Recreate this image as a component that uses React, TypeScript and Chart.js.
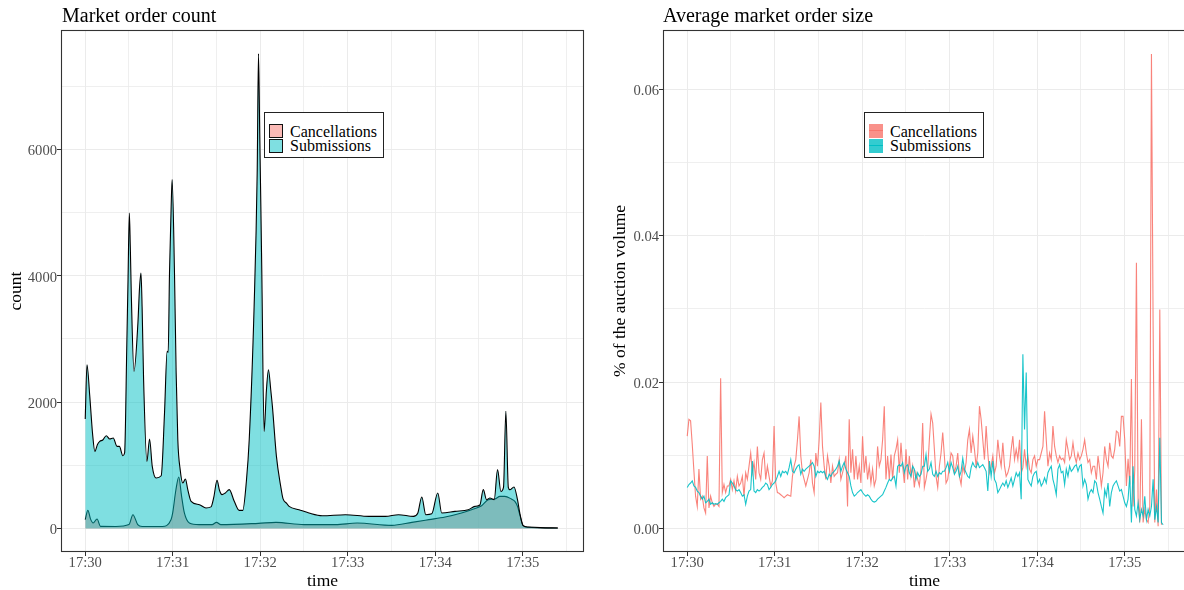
import React, { useEffect, useRef } from 'react';
import { Chart, registerables } from 'chart.js';

Chart.register(...registerables);

const FONT = '"Liberation Serif", "Times New Roman", serif';

// ---------- shared time axis (minutes after 17:30) ----------
const xMajorMinutes = [0, 1, 2, 3, 4, 5];
const xTickLabels = ['17:30', '17:31', '17:32', '17:33', '17:34', '17:35'];
const xMinorMinutes = [0.5, 1.5, 2.5, 3.5, 4.5, 5.5];
const X_MIN = -0.277;
const X_MAX = 5.7;

// ---------- left chart: market order count ----------
const countMajor = [0, 2000, 4000, 6000];
const countMinor = [1000, 3000, 5000, 7000];

const subTimes = [0, 0.02, 0.052, 0.083, 0.11, 0.14, 0.166, 0.2, 0.24, 0.28, 0.32, 0.363, 0.39, 0.43, 0.45, 0.475, 0.489, 0.504, 0.515, 0.527, 0.557, 0.602, 0.62, 0.637, 0.65, 0.667, 0.705, 0.735, 0.766, 0.81, 0.868, 0.906, 0.936, 0.948, 0.963, 0.982, 0.993, 1.02, 1.039, 1.058, 1.085, 1.115, 1.145, 1.172, 1.21, 1.305, 1.38, 1.437, 1.47, 1.506, 1.535, 1.563, 1.6, 1.646, 1.703, 1.76, 1.8, 1.843, 1.874, 1.93, 1.965, 1.98, 1.995, 2.007, 2.018, 2.044, 2.071, 2.094, 2.12, 2.139, 2.185, 2.234, 2.26, 2.3, 2.33, 2.443, 2.557, 2.708, 2.974, 3.24, 3.43, 3.58, 3.75, 3.8, 3.846, 3.892, 3.96, 4.029, 4.074, 4.226, 4.378, 4.454, 4.51, 4.549, 4.586, 4.625, 4.674, 4.712, 4.75, 4.78, 4.807, 4.835, 4.853, 4.9, 4.94, 4.966, 5.004, 5.06, 5.2, 5.4];
const subCounts = [1732, 2592, 2090, 1511, 1219, 1330, 1378, 1400, 1468, 1416, 1431, 1298, 1298, 1151, 1194, 2900, 3938, 4994, 4466, 3674, 2486, 3252, 3800, 4044, 3500, 2355, 1061, 1416, 982, 798, 834, 1827, 2803, 2787, 4044, 5099, 5522, 4044, 2461, 1405, 930, 719, 782, 613, 428, 375, 323, 340, 500, 760, 600, 534, 560, 613, 428, 285, 285, 771, 1405, 3515, 5628, 7517, 6155, 5099, 4044, 1536, 2196, 2513, 2196, 1932, 1140, 665, 470, 400, 348, 296, 244, 201, 217, 190, 190, 217, 190, 240, 497, 217, 230, 560, 244, 270, 296, 348, 370, 613, 454, 481, 454, 930, 586, 650, 1853, 650, 613, 656, 454, 244, 43, 22, 12, 6];

const cancTimes = [0, 0.03, 0.06, 0.09, 0.135, 0.174, 0.35, 0.5, 0.545, 0.6, 0.65, 0.88, 0.98, 1.0, 1.035, 1.069, 1.1, 1.133, 1.19, 1.3, 1.45, 1.5, 1.55, 1.98, 2.18, 2.5, 2.86, 3.107, 3.505, 3.733, 3.927, 4.113, 4.3, 4.415, 4.53, 4.606, 4.68, 4.74, 4.795, 4.87, 4.91, 4.94, 4.966, 5.004, 5.06, 5.2, 5.4];
const cancCounts = [138, 285, 150, 85, 149, 32, 30, 60, 217, 59, 30, 30, 138, 250, 600, 814, 520, 244, 85, 59, 60, 95, 60, 80, 95, 59, 59, 85, 48, 95, 138, 180, 244, 296, 359, 454, 465, 507, 507, 465, 428, 348, 217, 43, 18, 10, 5];

// ---------- right chart: average market order size ----------
const sizeMajor = [0, 0.02, 0.04, 0.06];
const sizeMinor = [0.01, 0.03, 0.05];
const SAMPLE_SECONDS = 1.145; // regular sampling interval of the size series

const cancSize = [
  0.0126, 0.0149, 0.0147, 0.0115, 0.0078, 0.0044, 0.0030, 0.0081, 0.0040, 0.0044,
  0.0028, 0.0021, 0.0099, 0.0028, 0.0044, 0.0035, 0.0030, 0.0033, 0.0033, 0.0030,
  0.0205, 0.0049, 0.0060, 0.0049, 0.0058, 0.0058, 0.0067, 0.0053, 0.0065, 0.0051,
  0.0071, 0.0058, 0.0062, 0.0071, 0.0044, 0.0076, 0.0067, 0.0085, 0.0103, 0.0076,
  0.0090, 0.0067, 0.0112, 0.0076, 0.0067, 0.0094, 0.0103, 0.0067, 0.0085, 0.0071,
  0.0058, 0.0065, 0.0140, 0.0062, 0.0049, 0.0048, 0.0046, 0.0044, 0.0042, 0.0044,
  0.0046, 0.0045, 0.0044, 0.0071, 0.0085, 0.0094, 0.0121, 0.0153, 0.0099, 0.0076,
  0.0067, 0.0058, 0.0067, 0.0076, 0.0094, 0.0062, 0.0049, 0.0103, 0.0085, 0.0121,
  0.0172, 0.0112, 0.0085, 0.0067, 0.0099, 0.0085, 0.0062, 0.0085, 0.0071, 0.0074,
  0.0076, 0.0094, 0.0067, 0.0076, 0.0085, 0.0099, 0.0030, 0.0149, 0.0076, 0.0108,
  0.0067, 0.0099, 0.0067, 0.0085, 0.0062, 0.0126, 0.0076, 0.0099, 0.0067, 0.0085,
  0.0062, 0.0081, 0.0058, 0.0067, 0.0112, 0.0085, 0.0094, 0.0121, 0.0167, 0.0067,
  0.0099, 0.0067, 0.0101, 0.0067, 0.0099, 0.0108, 0.0121, 0.0076, 0.0117, 0.0085,
  0.0062, 0.0108, 0.0067, 0.0099, 0.0071, 0.0085, 0.0056, 0.0076, 0.0067, 0.0058,
  0.0081, 0.0144, 0.0056, 0.0067, 0.0081, 0.0121, 0.0156, 0.0144, 0.0108, 0.0071,
  0.0056, 0.0085, 0.0103, 0.0131, 0.0099, 0.0062, 0.0067, 0.0085, 0.0103, 0.0099,
  0.0076, 0.0085, 0.0103, 0.0071, 0.0060, 0.0085, 0.0076, 0.0090, 0.0121, 0.0135,
  0.0103, 0.0126, 0.0108, 0.0085, 0.0103, 0.0167, 0.0149, 0.0121, 0.0094, 0.0140,
  0.0103, 0.0076, 0.0085, 0.0099, 0.0076, 0.0085, 0.0121, 0.0099, 0.0085, 0.0117,
  0.0085, 0.0071, 0.0076, 0.0085, 0.0108, 0.0126, 0.0094, 0.0108, 0.0094, 0.0121,
  0.0076, 0.0083, 0.0108, 0.0085, 0.0099, 0.0081, 0.0076, 0.0094, 0.0099, 0.0085,
  0.0094, 0.0094, 0.0103, 0.0112, 0.0160, 0.0121, 0.0085, 0.0103, 0.0094, 0.0140,
  0.0112, 0.0099, 0.0090, 0.0099, 0.0094, 0.0096, 0.0090, 0.0121, 0.0108, 0.0094,
  0.0099, 0.0117, 0.0099, 0.0090, 0.0103, 0.0094, 0.0099, 0.0108, 0.0121, 0.0103,
  0.0090, 0.0094, 0.0076, 0.0085, 0.0085, 0.0067, 0.0099, 0.0081, 0.0058, 0.0076,
  0.0112, 0.0094, 0.0085, 0.0117, 0.0099, 0.0096, 0.0108, 0.0133, 0.0131, 0.0112,
  0.0153, 0.0153, 0.0121, 0.0058, 0.0095, 0.0060, 0.0204, 0.0030, 0.0080, 0.0363,
  0.0040, 0.0008, 0.0149, 0.0008, 0.0026, 0.0012, 0.0008, 0.0030, 0.0648, 0.0277,
  0.0008, 0.0053, 0.0003, 0.0299, 0.0005,
];

const subSize = [
  0.0056, 0.0060, 0.0062, 0.0065, 0.0058, 0.0056, 0.0051, 0.0049, 0.0044, 0.0040,
  0.0044, 0.0035, 0.0037, 0.0040, 0.0033, 0.0035, 0.0033, 0.0034, 0.0033, 0.0035,
  0.0037, 0.0040, 0.0037, 0.0042, 0.0044, 0.0046, 0.0065, 0.0062, 0.0058, 0.0053,
  0.0051, 0.0053, 0.0049, 0.0044, 0.0046, 0.0033, 0.0044, 0.0051, 0.0053, 0.0092,
  0.0051, 0.0049, 0.0053, 0.0051, 0.0053, 0.0056, 0.0058, 0.0062, 0.0060, 0.0053,
  0.0056, 0.0060, 0.0062, 0.0065, 0.0071, 0.0078, 0.0071, 0.0078, 0.0076, 0.0078,
  0.0074, 0.0083, 0.0094, 0.0078, 0.0076, 0.0081, 0.0085, 0.0087, 0.0074, 0.0081,
  0.0078, 0.0081, 0.0083, 0.0085, 0.0087, 0.0090, 0.0085, 0.0071, 0.0078, 0.0076,
  0.0078, 0.0076, 0.0078, 0.0071, 0.0067, 0.0074, 0.0071, 0.0076, 0.0078, 0.0081,
  0.0085, 0.0092, 0.0078, 0.0085, 0.0090, 0.0081, 0.0076, 0.0071, 0.0058, 0.0049,
  0.0044, 0.0046, 0.0049, 0.0051, 0.0053, 0.0049, 0.0046, 0.0044, 0.0046, 0.0044,
  0.0040, 0.0037, 0.0036, 0.0037, 0.0040, 0.0042, 0.0044, 0.0046, 0.0051, 0.0056,
  0.0062, 0.0067, 0.0065, 0.0069, 0.0071, 0.0058, 0.0085, 0.0087, 0.0085, 0.0090,
  0.0076, 0.0085, 0.0087, 0.0076, 0.0071, 0.0085, 0.0081, 0.0067, 0.0076, 0.0071,
  0.0074, 0.0085, 0.0085, 0.0101, 0.0078, 0.0081, 0.0090, 0.0074, 0.0071, 0.0078,
  0.0071, 0.0076, 0.0074, 0.0078, 0.0078, 0.0083, 0.0090, 0.0078, 0.0090, 0.0083,
  0.0074, 0.0078, 0.0085, 0.0071, 0.0078, 0.0096, 0.0081, 0.0076, 0.0071, 0.0069,
  0.0083, 0.0090, 0.0085, 0.0083, 0.0090, 0.0083, 0.0085, 0.0087, 0.0083, 0.0078,
  0.0051, 0.0092, 0.0071, 0.0092, 0.0067, 0.0062, 0.0049, 0.0053, 0.0058, 0.0062,
  0.0058, 0.0065, 0.0056, 0.0062, 0.0069, 0.0058, 0.0067, 0.0076, 0.0071, 0.0076,
  0.0040, 0.0238, 0.0135, 0.0213, 0.0067, 0.0062, 0.0058, 0.0071, 0.0076, 0.0078,
  0.0062, 0.0067, 0.0058, 0.0062, 0.0069, 0.0062, 0.0076, 0.0081, 0.0085, 0.0067,
  0.0058, 0.0046, 0.0081, 0.0087, 0.0076, 0.0078, 0.0060, 0.0081, 0.0071, 0.0085,
  0.0078, 0.0081, 0.0085, 0.0087, 0.0078, 0.0085, 0.0087, 0.0058, 0.0067, 0.0060,
  0.0040, 0.0049, 0.0053, 0.0049, 0.0065, 0.0062, 0.0049, 0.0040, 0.0030, 0.0021,
  0.0053, 0.0044, 0.0062, 0.0030, 0.0049, 0.0058, 0.0062, 0.0065, 0.0058, 0.0051,
  0.0053, 0.0044, 0.0035, 0.0030, 0.0040, 0.0072, 0.0008, 0.0085, 0.0026, 0.0017,
  0.0035, 0.0012, 0.0026, 0.0017, 0.0044, 0.0012, 0.0026, 0.0017, 0.0030, 0.0067,
  0.0012, 0.0030, 0.0008, 0.0124, 0.0008, 0.0005,
];

// ---------- helpers ----------
const near = (list: number[], v: number) => list.some((m) => Math.abs(m - v) < 1e-9);

const panelBorder = {
  id: 'panelBorder',
  afterDraw(chart: any) {
    const { ctx, chartArea } = chart;
    const { left, top, right, bottom } = chartArea;
    ctx.save();
    ctx.strokeStyle = '#333333';
    ctx.lineWidth = 1.1;
    ctx.strokeRect(left + 0.5, top + 0.5, right - left - 1, bottom - top - 1);
    ctx.restore();
  },
};

function buildScales(opts: {
  yMin: number; yMax: number; yMajor: number[]; yMinor: number[];
  yTitle: string; yFmt: (v: number) => string; yWidth: number; yTitlePad: number;
}) {
  const xAll = [...xMajorMinutes, ...xMinorMinutes].sort((a, b) => a - b);
  const yAll = [...opts.yMajor, ...opts.yMinor].sort((a, b) => a - b);
  return {
    x: {
      type: 'linear',
      min: X_MIN,
      max: X_MAX,
      afterBuildTicks: (s: any) => { s.ticks = xAll.map((v) => ({ value: v })); },
      afterFit: (s: any) => { s.height = 38; },
      border: { display: false },
      grid: {
        color: '#EBEBEB',
        lineWidth: (c: any) => (c.tick && near(xMajorMinutes, c.tick.value) ? 1 : 0.8),
        tickColor: (c: any) => (c.tick && near(xMajorMinutes, c.tick.value) ? '#333333' : 'rgba(0,0,0,0)'),
        tickLength: 4,
        tickWidth: 1,
        drawTicks: true,
      },
      ticks: {
        autoSkip: false,
        maxRotation: 0,
        padding: -2,
        color: '#4D4D4D',
        font: { family: FONT, size: 14.6 },
        callback: (v: any) => {
          const i = xMajorMinutes.findIndex((m) => Math.abs(m - v) < 1e-9);
          return i >= 0 ? xTickLabels[i] : '';
        },
      },
      title: {
        display: true,
        text: 'time',
        color: '#000000',
        font: { family: FONT, size: 17.5 },
        padding: { top: 0, bottom: -2 },
      },
    },
    y: {
      type: 'linear',
      min: opts.yMin,
      max: opts.yMax,
      afterBuildTicks: (s: any) => { s.ticks = yAll.map((v) => ({ value: v })); },
      afterFit: (s: any) => { s.width = opts.yWidth; },
      border: { display: false },
      grid: {
        color: '#EBEBEB',
        lineWidth: (c: any) => (c.tick && near(opts.yMajor, c.tick.value) ? 1 : 0.8),
        tickColor: (c: any) => (c.tick && near(opts.yMajor, c.tick.value) ? '#333333' : 'rgba(0,0,0,0)'),
        tickLength: 4,
        tickWidth: 1,
        drawTicks: true,
      },
      ticks: {
        autoSkip: false,
        padding: 0,
        labelOffset: 2,
        color: '#4D4D4D',
        font: { family: FONT, size: 14.6 },
        callback: (v: any) => (near(opts.yMajor, v) ? opts.yFmt(v) : ''),
      },
      title: {
        display: true,
        text: opts.yTitle,
        color: '#000000',
        font: { family: FONT, size: 17.5 },
        padding: { top: opts.yTitlePad, bottom: 0 },
      },
    },
  };
}

function countConfig(): any {
  return {
    type: 'line',
    data: {
      datasets: [
        {
          label: 'Submissions',
          data: subTimes.map((t, i) => ({ x: t, y: subCounts[i] })),
          borderColor: '#000000',
          borderWidth: 1.1,
          backgroundColor: 'rgba(0,191,196,0.5)',
          fill: 'origin',
          pointRadius: 0,
          cubicInterpolationMode: 'monotone',
        },
        {
          label: 'Cancellations',
          data: cancTimes.map((t, i) => ({ x: t, y: cancCounts[i] })),
          borderColor: '#000000',
          borderWidth: 1.1,
          backgroundColor: 'rgba(248,118,109,0.5)',
          fill: 'origin',
          pointRadius: 0,
          cubicInterpolationMode: 'monotone',
        },
      ],
    },
    options: {
      animation: false,
      responsive: false,
      devicePixelRatio: 1,
      layout: { padding: { top: 30, right: 16, left: 0, bottom: 0 } },
      plugins: { legend: { display: false }, tooltip: { enabled: false }, title: { display: false } },
      scales: buildScales({
        yMin: -374, yMax: 7892, yMajor: countMajor, yMinor: countMinor,
        yTitle: 'count', yFmt: (v) => String(Math.round(v)), yWidth: 61, yTitlePad: 6,
      }),
    },
    plugins: [panelBorder],
  };
}

function sizeConfig(): any {
  const times = subSize.map((_, i) => (i * SAMPLE_SECONDS) / 60);
  return {
    type: 'line',
    data: {
      datasets: [
        {
          label: 'Submissions',
          data: subSize.map((v, i) => ({ x: times[i], y: v })),
          borderColor: 'rgba(0,191,196,0.9)',
          borderWidth: 1.1,
          pointRadius: 0,
          fill: false,
          tension: 0,
        },
        {
          label: 'Cancellations',
          data: cancSize.map((v, i) => ({ x: times[i], y: v })),
          borderColor: 'rgba(248,118,109,0.9)',
          borderWidth: 1.1,
          pointRadius: 0,
          fill: false,
          tension: 0,
        },
      ],
    },
    options: {
      animation: false,
      responsive: false,
      devicePixelRatio: 1,
      layout: { padding: { top: 30, right: 14, left: 0, bottom: 0 } },
      plugins: { legend: { display: false }, tooltip: { enabled: false }, title: { display: false } },
      scales: buildScales({
        yMin: -0.003224, yMax: 0.06809, yMajor: sizeMajor, yMinor: sizeMinor,
        yTitle: '% of the auction volume', yFmt: (v) => v.toFixed(2), yWidth: 63, yTitlePad: 10,
      }),
    },
    plugins: [panelBorder],
  };
}

function ChartPanel({ make, left, width }: { make: () => any; left: number; width: number }) {
  const ref = useRef<HTMLCanvasElement | null>(null);
  useEffect(() => {
    if (!ref.current) return;
    const chart = new Chart(ref.current, make());
    return () => chart.destroy();
  }, []);
  return (
    <canvas
      ref={ref}
      width={width}
      height={590}
      style={{ position: 'absolute', left, top: 0, width, height: 590 }}
    />
  );
}

const legendBox: React.CSSProperties = {
  position: 'absolute', top: 112, width: 120, height: 46, boxSizing: 'border-box',
  border: '1px solid #222', background: '#fff',
};
const legendText: React.CSSProperties = {
  position: 'absolute', fontSize: 16, lineHeight: '14px', color: '#000', whiteSpace: 'nowrap',
};

export default function App() {
  return (
    <div
      style={{
        position: 'fixed', left: 0, top: 0, width: 1184, height: 590, overflow: 'hidden',
        background: '#ffffff', fontFamily: FONT,
      }}
    >
      <ChartPanel make={countConfig} left={0} width={600} />
      <ChartPanel make={sizeConfig} left={600} width={600} />

      <div style={{ position: 'absolute', left: 62, top: 4, fontSize: 20, lineHeight: '22px', color: '#000' }}>
        Market order count
      </div>
      <div style={{ position: 'absolute', left: 663, top: 4, fontSize: 20, lineHeight: '22px', color: '#000' }}>
        Average market order size
      </div>

      <div style={{ ...legendBox, left: 264 }}>
        <div style={{ position: 'absolute', left: 4, top: 11, width: 14, height: 14, boxSizing: 'border-box', border: '1px solid #111', background: 'rgb(251,186,182)' }} />
        <div style={{ position: 'absolute', left: 4, top: 26, width: 14, height: 14, boxSizing: 'border-box', border: '1px solid #111', background: 'rgb(127,223,225)' }} />
        <div style={{ ...legendText, left: 25, top: 12 }}>Cancellations</div>
        <div style={{ ...legendText, left: 25, top: 26 }}>Submissions</div>
      </div>

      <div style={{ ...legendBox, left: 864 }}>
        <div style={{ position: 'absolute', left: 4, top: 11, width: 14, height: 14, background: 'rgba(248,118,109,0.8)' }}>
          <div style={{ position: 'absolute', left: 0, top: 6, width: 14, height: 1, background: 'rgba(248,118,109,1)' }} />
        </div>
        <div style={{ position: 'absolute', left: 4, top: 26, width: 14, height: 14, background: 'rgba(0,191,196,0.8)' }}>
          <div style={{ position: 'absolute', left: 0, top: 6, width: 14, height: 1, background: 'rgba(0,191,196,1)' }} />
        </div>
        <div style={{ ...legendText, left: 25, top: 12 }}>Cancellations</div>
        <div style={{ ...legendText, left: 25, top: 26 }}>Submissions</div>
      </div>
    </div>
  );
}
